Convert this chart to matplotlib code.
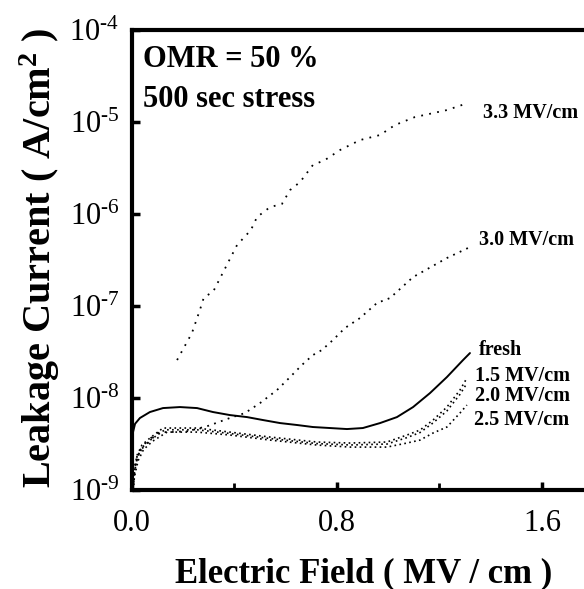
import numpy as np
import matplotlib
matplotlib.use("Agg")
import matplotlib.pyplot as plt
from matplotlib.ticker import FixedLocator, MultipleLocator, NullLocator

plt.rcParams['font.family'] = ['Liberation Serif', 'DejaVu Serif']
plt.rcParams['mathtext.fontset'] = 'custom'
plt.rcParams['mathtext.rm'] = 'Liberation Serif'
plt.rcParams['mathtext.bf'] = 'Liberation Serif:bold'

# fresh device
fresh_x = [0.002, 0.004, 0.012, 0.031, 0.070, 0.121, 0.187, 0.254, 0.316, 0.382, 0.449, 0.511,
           0.578, 0.644, 0.706, 0.773, 0.839, 0.901, 0.968, 1.034, 1.097, 1.163, 1.229, 1.292, 1.319]
fresh_log = [-8.95, -8.37, -8.28, -8.217, -8.152, -8.109, -8.098, -8.109, -8.152, -8.185, -8.207, -8.239,
             -8.272, -8.293, -8.315, -8.326, -8.337, -8.326, -8.272, -8.207, -8.098, -7.946, -7.772, -7.587, -7.511]

# after 1.5 MV/cm stress
s15_x = [0.004, 0.008, 0.020, 0.039, 0.070, 0.121, 0.254, 0.382, 0.539, 0.722, 0.851, 0.995,
         1.073, 1.124, 1.175, 1.229, 1.280, 1.307]
s15_log = [-9.0, -8.78, -8.62, -8.51, -8.435, -8.326, -8.326, -8.370, -8.424, -8.478, -8.489, -8.478,
           -8.402, -8.348, -8.239, -8.098, -7.913, -7.783]

# after 2.0 MV/cm stress
s20_x = [0.004, 0.010, 0.022, 0.042, 0.075, 0.128, 0.254, 0.382, 0.539, 0.722, 0.851, 0.995,
         1.073, 1.124, 1.175, 1.229, 1.280, 1.307]
s20_log = [-9.0, -8.80, -8.64, -8.53, -8.45, -8.345, -8.345, -8.385, -8.44, -8.495, -8.51, -8.50,
           -8.43, -8.375, -8.27, -8.14, -7.96, -7.84]

# after 2.5 MV/cm stress
s25_x = [0.004, 0.010, 0.024, 0.045, 0.080, 0.137, 0.254, 0.382, 0.539, 0.722, 0.851, 0.995,
         1.073, 1.124, 1.175, 1.229, 1.280, 1.307]
s25_log = [-9.0, -8.85, -8.68, -8.56, -8.47, -8.37, -8.37, -8.402, -8.457, -8.511, -8.533, -8.533,
           -8.489, -8.457, -8.380, -8.315, -8.163, -8.076]

# after 3.0 MV/cm stress
s30_x = [0.004, 0.008, 0.016, 0.031, 0.058, 0.082, 0.110, 0.150, 0.220, 0.300, 0.382, 0.441, 0.500,
         0.566, 0.617, 0.663, 0.706, 0.741, 0.784, 0.831, 0.890, 0.956, 1.007, 1.097, 1.229, 1.319]
s30_log = [-9.0, -8.85, -8.70, -8.57, -8.50, -8.43, -8.37, -8.37, -8.36, -8.30, -8.217, -8.163, -8.054,
           -7.913, -7.772, -7.641, -7.533, -7.478, -7.370, -7.239, -7.130, -6.967, -6.913, -6.685, -6.478, -6.359]

# after 3.3 MV/cm stress (low-field part and high-field part)
s33_x = [0.004, 0.006, 0.012, 0.020, 0.035, 0.055, 0.080, 0.105, np.nan,
         0.176, 0.234, 0.265, 0.281, 0.316, 0.410, 0.464, 0.488, 0.539, 0.585, 0.617, 0.656,
         0.706, 0.753, 0.812, 0.890, 0.968, 1.026, 1.104, 1.229, 1.311]
s33_log = [-9.0, -8.90, -8.74, -8.63, -8.55, -8.48, -8.42, -8.37, np.nan,
           -7.587, -7.293, -7.043, -6.902, -6.848, -6.337, -6.174, -6.033, -5.924, -5.891, -5.739, -5.652,
           -5.467, -5.413, -5.304, -5.196, -5.141, -5.033, -4.946, -4.870, -4.793]

curve_labels = ['3.3 MV/cm', '3.0 MV/cm', 'fresh', '1.5 MV/cm', '2.0 MV/cm', '2.5 MV/cm']
label_x = [1.37, 1.355, 1.355, 1.34, 1.34, 1.335]
label_log = [-4.90, -6.28, -7.48, -7.76, -7.98, -8.24]

fig = plt.figure(figsize=(5.84, 5.89), dpi=100)
ax = fig.add_axes([0.226, 0.168, 0.774, 0.781])

ax.plot(fresh_x, 10 ** np.array(fresh_log), color='black', lw=1.4, solid_capstyle='round')
for xs, ls in [(s15_x, s15_log), (s20_x, s20_log), (s25_x, s25_log)]:
    ax.plot(xs, 10 ** np.array(ls), color='black', lw=1.2, linestyle=(0, (1, 2)))
ax.plot(s30_x, 10 ** np.array(s30_log), color='black', lw=1.3, linestyle=(0, (1, 3)))
ax.plot(s33_x, 10 ** np.array(s33_log), color='black', lw=1.3, linestyle=(0, (1, 3.5)))

ax.set_yscale('log')
ax.set_xlim(0, 1.764)
ax.set_ylim(1e-9, 1e-4)

ax.xaxis.set_minor_locator(MultipleLocator(0.4))
ax.set_xticks([0.0, 0.8, 1.6])
ax.set_xticklabels(['0.0', '0.8', '1.6'], fontsize=22)

yt = [1e-9, 1e-8, 1e-7, 1e-6, 1e-5, 1e-4]
ax.yaxis.set_major_locator(FixedLocator(yt))
ax.yaxis.set_minor_locator(NullLocator())
ax.set_yticklabels([r'$\mathregular{10^{\text{-}%d}}$' % -int(np.log10(v)) for v in yt], fontsize=22)

ax.tick_params(axis='both', which='major', direction='in', length=6, width=2.5)
ax.tick_params(axis='x', which='major', pad=14)
ax.tick_params(axis='y', which='major', pad=9)
ax.tick_params(axis='x', which='minor', direction='in', length=5, width=2)

for side in ['left', 'bottom', 'top']:
    ax.spines[side].set_linewidth(3)
ax.spines['right'].set_visible(False)

# axis titles placed on the figure so they sit close to the edges
fig.text(0.623, 0.012, 'Electric Field ( MV / cm )', fontsize=25, fontweight='bold',
         ha='center', va='baseline')
fig.text(0.068, 0.563, r'Leakage Current ( A/cm$\mathbf{^2}$ )', fontsize=29, fontweight='bold',
         ha='center', va='center', rotation=90)

ax.text(0.024, 0.935, 'OMR = 50 %', transform=ax.transAxes, fontsize=22, fontweight='bold', va='center')
ax.text(0.024, 0.848, '500 sec stress', transform=ax.transAxes, fontsize=22, fontweight='bold', va='center')

for lx, ly, txt in zip(label_x, label_log, curve_labels):
    ax.text(lx, 10 ** ly, txt, fontsize=14.5, fontweight='bold', va='center')

fig.savefig('out.png', dpi=100)
